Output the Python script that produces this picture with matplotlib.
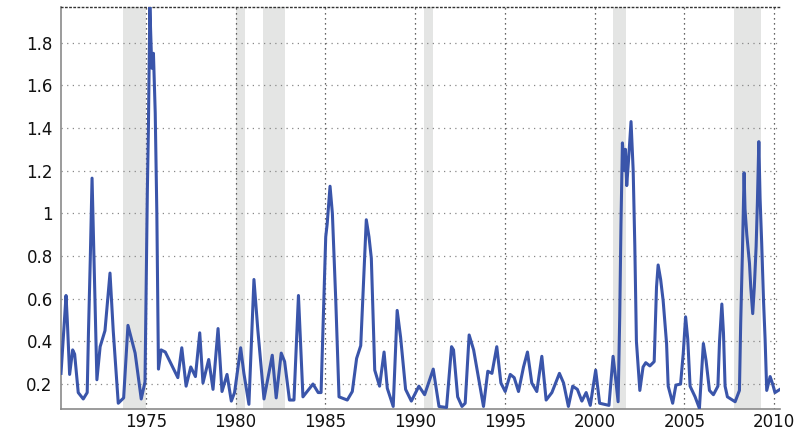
import matplotlib
matplotlib.use("Agg")
import matplotlib.pyplot as plt

# Series: (decimal year, value) vertices
years = [
    1970.27, 1970.55, 1970.62, 1970.75, 1970.92, 1971.03, 1971.23, 1971.51, 1971.73,
    1971.80, 1971.90, 1972.00, 1972.08, 1972.17, 1972.27, 1972.45, 1972.72, 1973.00,
    1973.18, 1973.46, 1973.76, 1974.00, 1974.40, 1974.74, 1974.95, 1975.08, 1975.14,
    1975.22, 1975.33, 1975.42, 1975.52, 1975.61, 1975.70, 1975.85, 1976.08, 1976.78,
    1977.00, 1977.24, 1977.50, 1977.76, 1978.00, 1978.18, 1978.50, 1978.74, 1979.02,
    1979.24, 1979.52, 1979.76, 1979.94, 1980.28, 1980.46, 1980.74, 1981.02, 1981.24,
    1981.58, 1982.04, 1982.26, 1982.54, 1982.73, 1983.00, 1983.25, 1983.50, 1983.75,
    1984.31, 1984.60, 1984.76, 1985.02, 1985.10, 1985.26, 1985.39, 1985.58, 1985.76,
    1986.22, 1986.50, 1986.74, 1986.97, 1987.28, 1987.43, 1987.56, 1987.75, 1988.02,
    1988.27, 1988.45, 1988.78, 1989.00, 1989.19, 1989.47, 1989.79, 1990.21, 1990.53,
    1991.01, 1991.33, 1991.75, 1992.03, 1992.14, 1992.37, 1992.61, 1992.79, 1993.01,
    1993.26, 1993.81, 1994.05, 1994.28, 1994.55, 1994.78, 1995.02, 1995.30, 1995.52,
    1995.76, 1996.04, 1996.26, 1996.50, 1996.78, 1997.06, 1997.30, 1997.62, 1998.04,
    1998.27, 1998.54, 1998.78, 1999.04, 1999.29, 1999.53, 1999.76, 2000.06, 2000.28,
    2000.80, 2001.03, 2001.14, 2001.31, 2001.40, 2001.47, 2001.55, 2001.66, 2001.72,
    2001.79, 2001.90, 2002.03, 2002.15, 2002.24, 2002.33, 2002.52, 2002.70, 2002.85,
    2003.08, 2003.32, 2003.45, 2003.54, 2003.68, 2003.82, 2004.01, 2004.10, 2004.35,
    2004.53, 2004.79, 2004.94, 2005.07, 2005.19, 2005.32, 2005.60, 2005.84, 2006.06,
    2006.21, 2006.40, 2006.62, 2006.87, 2006.96, 2007.09, 2007.18, 2007.27, 2007.40,
    2007.83, 2008.07, 2008.14, 2008.24, 2008.33, 2008.38, 2008.48, 2008.63, 2008.70,
    2008.81, 2008.90, 2009.00, 2009.07, 2009.15, 2009.22, 2009.31, 2009.41, 2009.50,
    2009.59, 2009.78, 2009.92, 2010.05, 2010.33,
]
values = [
    0.25, 0.615, 0.50, 0.245, 0.36, 0.34, 0.16, 0.13, 0.16,
    0.44, 0.78, 1.165, 0.89, 0.58, 0.22, 0.375, 0.45, 0.72,
    0.45, 0.11, 0.135, 0.475, 0.345, 0.13, 0.21, 1.10, 1.40,
    1.97, 1.68, 1.75, 1.47, 1.00, 0.27, 0.36, 0.35, 0.23,
    0.37, 0.19, 0.28, 0.235, 0.44, 0.205, 0.315, 0.175, 0.46,
    0.165, 0.245, 0.12, 0.16, 0.37, 0.25, 0.105, 0.69, 0.45,
    0.13, 0.335, 0.135, 0.345, 0.305, 0.125, 0.125, 0.615, 0.14,
    0.20, 0.16, 0.16, 0.89, 0.95, 1.127, 1.00, 0.59, 0.14,
    0.125, 0.165, 0.32, 0.38, 0.97, 0.89, 0.79, 0.265, 0.19,
    0.35, 0.18, 0.095, 0.545, 0.42, 0.175, 0.12, 0.19, 0.15,
    0.27, 0.095, 0.09, 0.375, 0.36, 0.14, 0.095, 0.11, 0.43,
    0.36, 0.095, 0.26, 0.25, 0.375, 0.205, 0.165, 0.245, 0.23,
    0.165, 0.28, 0.35, 0.205, 0.165, 0.33, 0.125, 0.16, 0.25,
    0.205, 0.095, 0.19, 0.175, 0.12, 0.16, 0.10, 0.265, 0.11,
    0.10, 0.33, 0.25, 0.117, 0.515, 0.95, 1.33, 1.20, 1.30,
    1.13, 1.26, 1.43, 1.20, 0.85, 0.40, 0.17, 0.28, 0.30,
    0.285, 0.305, 0.655, 0.758, 0.69, 0.59, 0.39, 0.19, 0.11,
    0.195, 0.20, 0.345, 0.515, 0.41, 0.19, 0.14, 0.086, 0.39,
    0.31, 0.17, 0.15, 0.19, 0.40, 0.575, 0.44, 0.19, 0.14,
    0.117, 0.17, 0.485, 0.83, 1.19, 1.02, 0.90, 0.765, 0.655,
    0.53, 0.655, 0.845, 1.05, 1.336, 1.07, 0.86, 0.595, 0.41,
    0.17, 0.235, 0.20, 0.16, 0.175,
]

# Recession periods (shaded)
rec_start = [1973.75, 1980.0, 1981.5, 1990.5, 2001.0, 2007.75]
rec_end = [1975.0, 1980.5, 1982.75, 1991.0, 2001.75, 2009.25]

xticks = [1975, 1980, 1985, 1990, 1995, 2000, 2005, 2010]
xticklabels = ["1975", "1980", "1985", "1990", "1995", "2000", "2005", "2010"]
yticks = [0.2, 0.4, 0.6, 0.8, 1.0, 1.2, 1.4, 1.6, 1.8]
yticklabels = ["0.2", "0.4", "0.6", "0.8", "1", "1.2", "1.4", "1.6", "1.8"]

fig = plt.figure(figsize=(8.12, 4.34), dpi=100)
ax = fig.add_axes([61 / 812, 25 / 434, (780 - 61) / 812, 402 / 434])

for s, e in zip(rec_start, rec_end):
    ax.axvspan(s, e, color="#e4e5e4", lw=0, zorder=0)

ax.plot(years, values, color="#3a55aa", lw=2.2, zorder=3)

ax.set_xlim(1970.27, 2010.33)
ax.set_ylim(0.083, 1.967)

ax.set_xticks(xticks)
ax.set_xticklabels(xticklabels)
ax.set_yticks(yticks)
ax.set_yticklabels(yticklabels)

for x in xticks:
    ax.axvline(x, color="#333333", lw=0.9, ls=(0, (1, 3)), zorder=1)
for y in yticks:
    ax.axhline(y, color="#888888", lw=0.9, ls=(0, (1, 3.5)), zorder=1)

ax.tick_params(axis="both", direction="in", length=0, labelsize=12,
               colors="#111111")
ax.tick_params(axis="x", pad=3)
ax.tick_params(axis="y", pad=6)
for lab in ax.get_xticklabels() + ax.get_yticklabels():
    lab.set_family("DejaVu Sans")

ax.spines["right"].set_visible(False)
ax.spines["left"].set_color("#8a8a8a")
ax.spines["bottom"].set_color("#8a8a8a")
ax.spines["left"].set_linewidth(1.2)
ax.spines["bottom"].set_linewidth(1.2)
ax.spines["top"].set_color("#333333")
ax.spines["top"].set_linestyle((0, (1, 2)))
ax.spines["top"].set_linewidth(1.0)

fig.savefig("out.png", dpi=100)
